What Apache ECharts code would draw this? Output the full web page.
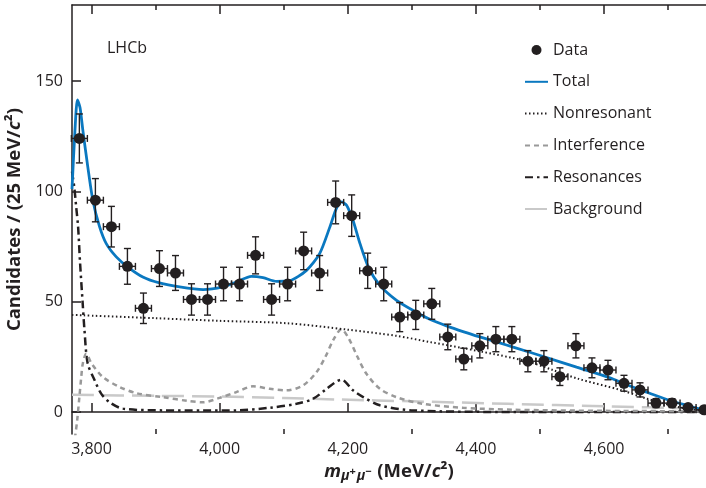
<!DOCTYPE html>
<html>
<head>
<meta charset="utf-8">
<title>LHCb m(mu mu)</title>
<script src="https://cdn.jsdelivr.net/npm/echarts@6/dist/echarts.min.js"></script>
<style>
  html, body { margin: 0; padding: 0; background: #fff; }
  #chart { width: 706px; height: 488px; }
</style>
</head>
<body>
<div id="chart"></div>
<script>
// axis ranges
const xMin = 3769.5
const xMax = 4759
const yMin = -10
const yMax = 184.5
const xMajorTicks = [3800, 4000, 4200, 4400, 4600]
const xMinorTicks = [3900, 4100, 4300, 4500, 4700]
const yTicks = [0, 50, 100, 150]

// data points (25 MeV bins)
const binCenters = [3781, 3806, 3831, 3856, 3881, 3906, 3931, 3956, 3981, 4006,
  4031, 4056, 4081, 4106, 4131, 4156, 4181, 4206, 4231, 4256,
  4281, 4306, 4331, 4356, 4381, 4406, 4431, 4456, 4481, 4506,
  4531, 4556, 4581, 4606, 4631, 4656, 4681, 4706, 4731, 4756]
const counts = [124, 96, 84, 66, 47, 65, 63, 51, 51, 58,
  58, 71, 51, 58, 73, 63, 95, 89, 64, 58,
  43, 44, 49, 34, 24, 30, 33, 33, 23, 23,
  16, 30, 20, 19, 13, 10, 4, 4, 2, 1]
const errors = [11.1, 9.8, 9.2, 8.1, 6.9, 8.1, 7.9, 7.1, 7.1, 7.6,
  7.6, 8.4, 7.1, 7.6, 8.5, 7.9, 9.7, 9.4, 8.0, 7.6,
  6.6, 6.6, 7.0, 5.8, 4.9, 5.5, 5.7, 5.7, 4.8, 4.8,
  4.0, 5.5, 4.5, 4.4, 3.6, 3.2, 2.0, 2.0, 1.4, 1.0]
const halfBin = 12.5

// fit components [mass, value]
const total = [[3769.5, 101], [3774, 127], [3778, 141.5], [3782, 138], [3786.4, 127.8], [3794.2, 111],
  [3802, 96], [3812.5, 84], [3823, 76.3], [3838.6, 70.3], [3856.7, 65.7], [3880, 61.2], [3906, 58.5],
  [3937.5, 56.7], [3974, 55.5], [4005, 56.7], [4026, 58.9], [4049.5, 61.5], [4067.7, 60.9], [4088.6, 59.2],
  [4109, 59.5], [4135.5, 64.2], [4156, 71.8], [4172, 83.9], [4182, 92.2], [4190, 95.2], [4198, 93.7],
  [4208, 86.9], [4219, 76.3], [4232, 65.7], [4250, 57.4], [4276, 50.6], [4302, 46], [4328, 42],
  [4354, 39], [4381, 36.3], [4406, 34], [4437, 31.3], [4458, 29.4], [4510, 24.7], [4557, 20.3],
  [4609, 15.5], [4635, 12.3], [4670, 8.6], [4703, 5.2], [4759, 0.6]]
const nonresonant = [[3769.5, 44], [3900, 42.5], [4000, 41.3], [4106, 40.2], [4200, 37.3], [4276, 34.5],
  [4328, 31.7], [4406, 27.5], [4479, 23], [4520, 19], [4560, 15], [4625, 10], [4667, 6], [4719, 2], [4759, 0.3]]
const interference = [[3774, -12], [3777.5, -4], [3781, 6.7], [3784, 16], [3786.4, 22], [3791.7, 26.4],
  [3800, 22], [3817.7, 15.8], [3844, 11.3], [3870, 8.5], [3911, 6.7], [3950, 5], [3974, 4.4], [4000, 6.4],
  [4026, 9], [4052, 11.6], [4078, 10.5], [4104, 9.8], [4130, 12], [4151, 18], [4165, 25], [4178, 33],
  [4190, 37.5], [4202, 33], [4215, 25], [4229, 17.3], [4250, 10.5], [4276, 6.7], [4317, 3.7], [4380, 1.9],
  [4458, 1], [4600, 0.5], [4759, 0.3]]
const resonances = [[3769.5, 109], [3773, 102], [3776, 93], [3779, 84], [3782, 68], [3786, 50], [3789, 37],
  [3794, 22], [3805, 14.3], [3815, 8.3], [3828, 4.4], [3849, 1.5], [3911, 0.7], [3974, 0.6], [4026, 0.7],
  [4078, 1.9], [4120, 3.7], [4146, 6], [4167, 10.5], [4190, 14.6], [4208, 9.8], [4224, 6.7], [4250, 3],
  [4302, 0.7], [4458, 0], [4759, 0]]
const background = [[3769.5, 7.8], [3900, 7.3], [4000, 7], [4100, 6.3], [4190, 5.6], [4300, 4.8],
  [4450, 3.7], [4600, 2.6], [4759, 1.4]]

const ink = '#231f20'
const font = 'Open Sans'
const titleSize = 18.5

const withComma = v => String(v).replace(/\B(?=(\d{3})+(?!\d))/g, ',')

function xAxisDef(position, ticks, len, withLine, withLabel) {
  return {
    type: 'value', position: position, min: xMin, max: xMax,
    axisLine: { show: withLine, lineStyle: { color: ink, width: 1.5 } },
    axisTick: { show: true, inside: true, length: len, customValues: ticks, lineStyle: { color: ink, width: 1.5 } },
    axisLabel: withLabel
      ? { show: true, customValues: ticks, formatter: withComma, color: ink, fontSize: 16, fontFamily: font, margin: 7 }
      : { show: false },
    splitLine: { show: false },
  }
}

const errorData = binCenters.map((x, i) => [x, counts[i], errors[i]])

const chart = echarts.init(document.getElementById('chart'), null, { renderer: 'canvas' })
chart.setOption({
  animation: false,
  backgroundColor: '#fff',
  grid: { left: 72, right: 0, top: 5, bottom: 54, containLabel: false, outerBoundsMode: 'none' },
  xAxis: [
    Object.assign(xAxisDef('bottom', xMajorTicks, 9, true, true), {
      name: '{i|m}{s|μ}{p|+}{s|μ}{p|−}{n| (MeV/}{i|c}{n|²)}',
      nameLocation: 'middle',
      nameGap: 19,
      nameTextStyle: {
        rich: {
          n: { fontSize: titleSize, fontWeight: 'bold', fontFamily: font, color: ink },
          i: { fontSize: titleSize, fontWeight: 'bold', fontStyle: 'italic', fontFamily: font, color: ink },
          s: { fontSize: 14, fontWeight: 'bold', fontStyle: 'italic', fontFamily: font, color: ink, padding: [10, 0, 0, 0] },
          p: { fontSize: 11, fontWeight: 'bold', fontFamily: font, color: ink, padding: [0, 1, 0, 0] },
        },
      },
    }),
    xAxisDef('bottom', xMinorTicks, 5, false, false),
    xAxisDef('top', xMajorTicks, 9, true, false),
    xAxisDef('top', xMinorTicks, 5, false, false),
  ],
  yAxis: {
    type: 'value', min: yMin, max: yMax,
    axisLine: { show: true, lineStyle: { color: ink, width: 1.5 } },
    axisTick: { show: true, inside: true, length: 9, customValues: yTicks, lineStyle: { color: ink, width: 1.5 } },
    axisLabel: { customValues: yTicks, color: ink, fontSize: 16, fontFamily: font, margin: 9 },
    splitLine: { show: false },
    name: '{n|Candidates / (25 MeV/}{i|c}{n|²)}',
    nameLocation: 'middle',
    nameRotate: 90,
    nameGap: 34,
    nameTextStyle: {
      rich: {
        n: { fontSize: titleSize, fontWeight: 'bold', fontFamily: font, color: ink },
        i: { fontSize: titleSize, fontWeight: 'bold', fontStyle: 'italic', fontFamily: font, color: ink },
      },
    },
  },
  legend: {
    orient: 'vertical',
    left: 519,
    top: 37,
    itemWidth: 23,
    itemHeight: 10,
    itemGap: 15.8,
    // hide the marker dot on line icons, keep it for Data
    itemStyle: { opacity: 0 },
    data: [
      { name: 'Data', itemStyle: { opacity: 1, color: ink } },
      'Total', 'Nonresonant', 'Interference', 'Resonances', 'Background',
    ],
    textStyle: { color: ink, fontSize: 16, fontFamily: font, lineHeight: 16 },
  },
  graphic: [
    { type: 'text', left: 107, top: 40, style: { text: 'LHCb', fontSize: 16, fontFamily: font, fill: ink } },
  ],
  series: [
    {
      name: 'Background', type: 'line', data: background, smooth: 0.3, symbol: 'none',
      lineStyle: { color: '#c9c9c9', width: 2.5, type: [22, 8] }, itemStyle: { color: '#c9c9c9' }, z: 2,
    },
    {
      name: 'Resonances', type: 'line', data: resonances, smooth: 0.3, symbol: 'none',
      lineStyle: { color: ink, width: 2.5, type: [8, 4, 2.5, 4] }, itemStyle: { color: ink }, z: 3,
    },
    {
      name: 'Interference', type: 'line', data: interference, smooth: 0.3, symbol: 'none',
      lineStyle: { color: '#999999', width: 2.5, type: [5, 4] }, itemStyle: { color: '#999999' }, z: 3,
    },
    {
      name: 'Nonresonant', type: 'line', data: nonresonant, smooth: 0.3, symbol: 'none',
      lineStyle: { color: ink, width: 2, type: [1.5, 2.5] }, itemStyle: { color: ink }, z: 3,
    },
    {
      name: 'Total', type: 'line', data: total, smooth: 0.25, symbol: 'none',
      lineStyle: { color: '#0a78c0', width: 2.8 }, itemStyle: { color: '#0a78c0' }, z: 4,
    },
    {
      // error bars with end caps
      type: 'custom', data: errorData, z: 5,
      renderItem: function (params, api) {
        const x = api.value(0)
        const y = api.value(1)
        const e = api.value(2)
        const c = api.coord([x, y])
        const top = api.coord([x, y + e])
        const bot = api.coord([x, y - e])
        const lft = api.coord([x - halfBin, y])
        const rgt = api.coord([x + halfBin, y])
        const cap = 3.5
        const st = { stroke: ink, lineWidth: 1.4 }
        const ln = (x1, y1, x2, y2) => ({ type: 'line', shape: { x1: x1, y1: y1, x2: x2, y2: y2 }, style: st })
        return {
          type: 'group',
          children: [
            ln(c[0], top[1], c[0], bot[1]),
            ln(lft[0], c[1], rgt[0], c[1]),
            ln(c[0] - cap, top[1], c[0] + cap, top[1]),
            ln(c[0] - cap, bot[1], c[0] + cap, bot[1]),
            ln(lft[0], c[1] - cap, lft[0], c[1] + cap),
            ln(rgt[0], c[1] - cap, rgt[0], c[1] + cap),
          ],
        }
      },
    },
    {
      name: 'Data', type: 'scatter', data: binCenters.map((x, i) => [x, counts[i]]),
      symbol: 'circle', symbolSize: 11, itemStyle: { color: ink, opacity: 1 }, z: 6,
    },
  ],
})
</script>
</body>
</html>
